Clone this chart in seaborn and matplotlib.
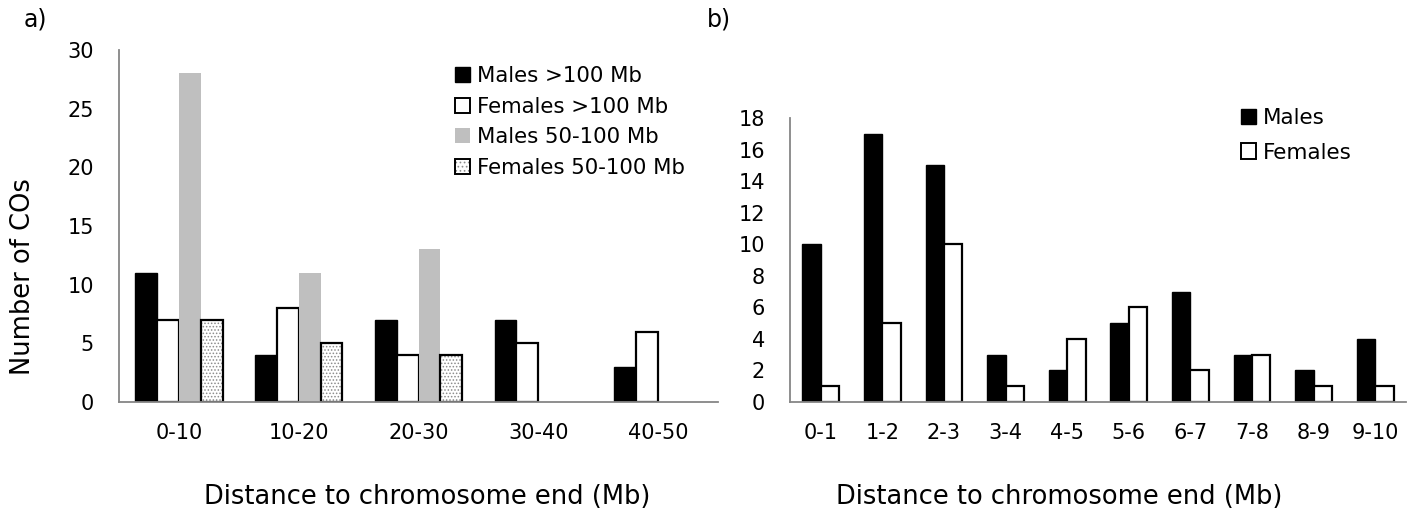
import numpy as np
import pandas as pd
import matplotlib
matplotlib.use('Agg')
import matplotlib.pyplot as plt
import seaborn as sns
from matplotlib.patches import Rectangle, Patch

# ---------------- data ----------------
cats_a = ['0-10', '10-20', '20-30', '30-40', '40-50']
males_gt100 = [11, 4, 7, 7, 3]
females_gt100 = [7, 8, 4, 5, 6]
males_50_100 = [28, 11, 13, 0, 0]
females_50_100 = [7, 5, 4, 0, 0]
series_a = ['Males >100 Mb', 'Females >100 Mb', 'Males 50-100 Mb', 'Females 50-100 Mb']

cats_b = ['0-1', '1-2', '2-3', '3-4', '4-5', '5-6', '6-7', '7-8', '8-9', '9-10']
males_b = [10, 17, 15, 3, 2, 5, 7, 3, 2, 4]
females_b = [1, 5, 10, 1, 4, 6, 2, 3, 1, 1]
series_b = ['Males', 'Females']

# ---------------- style ----------------
sns.set_theme(style='white')
plt.rcParams['font.family'] = ['DejaVu Sans']
plt.rcParams['hatch.linewidth'] = 0.7
plt.rcParams['text.color'] = 'black'
plt.rcParams['axes.labelcolor'] = 'black'
plt.rcParams['xtick.color'] = 'black'
plt.rcParams['ytick.color'] = 'black'

SPINE = '#868686'
GREY = '#bfbfbf'
DOTC = '#8c8c8c'
TICK_FS = 15
LAB_FS = 18.5

fig = plt.figure(figsize=(14.27, 5.23), dpi=100)
axa = fig.add_axes([0.0834, 0.2314, 0.4198, 0.673])
axb = fig.add_axes([0.5536, 0.2314, 0.4317, 0.543])

# ---------------- panel a ----------------
df_a = pd.DataFrame({
    'cat': cats_a * 4,
    'series': np.repeat(series_a, len(cats_a)),
    'value': males_gt100 + females_gt100 + males_50_100 + females_50_100,
})
pal_a = {series_a[0]: 'black', series_a[1]: 'white', series_a[2]: GREY, series_a[3]: 'white'}
sns.barplot(data=df_a, x='cat', y='value', hue='series', order=cats_a, hue_order=series_a,
            palette=pal_a, width=0.73, gap=0, saturation=1, errorbar=None, ax=axa, legend=False)

styles_a = [
    dict(facecolor='black', edgecolor='black', linewidth=1.0),
    dict(facecolor='white', edgecolor='black', linewidth=1.6),
    dict(facecolor=GREY, edgecolor='none', linewidth=0),
    dict(facecolor='white', edgecolor=DOTC, linewidth=0, hatch='.....'),
]
for cont, st in zip(axa.containers, styles_a):
    for p in cont.patches:
        p.set(**st)
        if 'hatch' in st and p.get_height() > 0:
            axa.add_patch(Rectangle((p.get_x(), p.get_y()), p.get_width(), p.get_height(),
                                    fill=False, edgecolor='black', linewidth=1.6,
                                    zorder=p.get_zorder() + 0.1))

axa.set_ylim(0, 30)
axa.set_yticks(range(0, 31, 5))
axa.set_xlim(-0.5, len(cats_a) - 0.5)

h_a = [
    Patch(facecolor='black', edgecolor='black'),
    Patch(facecolor='white', edgecolor='black', linewidth=1.4),
    Patch(facecolor=GREY, edgecolor='none'),
    (Patch(facecolor='white', edgecolor=DOTC, linewidth=0, hatch='....'),
     Patch(fill=False, edgecolor='black', linewidth=1.4)),
]
fig.legend(h_a, series_a, loc='upper left', bbox_to_anchor=(455 / 1427, 1 - 66 / 523),
           bbox_transform=fig.transFigure, frameon=False, fontsize=15.3, handlelength=0.7,
           handleheight=0.7, handletextpad=0.33, labelspacing=0.5, borderpad=0, borderaxespad=0,
           labelcolor='black')

# ---------------- panel b ----------------
df_b = pd.DataFrame({
    'cat': cats_b * 2,
    'series': np.repeat(series_b, len(cats_b)),
    'value': males_b + females_b,
})
pal_b = {'Males': 'black', 'Females': 'white'}
sns.barplot(data=df_b, x='cat', y='value', hue='series', order=cats_b, hue_order=series_b,
            palette=pal_b, width=0.6, gap=0, saturation=1, errorbar=None, ax=axb, legend=False)
styles_b = [
    dict(facecolor='black', edgecolor='black', linewidth=1.0),
    dict(facecolor='white', edgecolor='black', linewidth=1.6),
]
for cont, st in zip(axb.containers, styles_b):
    for p in cont.patches:
        p.set(**st)

axb.set_ylim(0, 18)
axb.set_yticks(range(0, 19, 2))
axb.set_xlim(-0.5, len(cats_b) - 0.5)

h_b = [Patch(facecolor='black', edgecolor='black'),
       Patch(facecolor='white', edgecolor='black', linewidth=1.4)]
fig.legend(h_b, series_b, loc='upper left', bbox_to_anchor=(1241 / 1427, 1 - 108 / 523),
           bbox_transform=fig.transFigure, frameon=False, fontsize=15.5, handlelength=0.7,
           handleheight=0.75, handletextpad=0.33, labelspacing=0.68, borderpad=0, borderaxespad=0,
           labelcolor='black')

# ---------------- common axes styling ----------------
for ax in (axa, axb):
    sns.despine(ax=ax)
    for s in ['left', 'bottom']:
        ax.spines[s].set_color(SPINE)
        ax.spines[s].set_linewidth(1.3)
    ax.tick_params(axis='both', length=0, labelsize=TICK_FS, colors='black')
    ax.tick_params(axis='y', pad=18)
    ax.tick_params(axis='x', pad=15)
    ax.set_xlabel('')
    ax.set_ylabel('')
    ax.grid(False)

fig.text(427 / 1427, 1 - 497 / 523, 'Distance to chromosome end (Mb)', fontsize=LAB_FS,
         ha='center', va='center', color='black')
fig.text(1059 / 1427, 1 - 497 / 523, 'Distance to chromosome end (Mb)', fontsize=LAB_FS,
         ha='center', va='center', color='black')
fig.text(23 / 1427, 1 - 277 / 523, 'Number of COs', fontsize=LAB_FS, rotation=90,
         ha='center', va='center', color='black')

fig.text(35 / 1427, 1 - 20 / 523, 'a)', fontsize=17, ha='center', va='center', color='black')
fig.text(719 / 1427, 1 - 20 / 523, 'b)', fontsize=17, ha='center', va='center', color='black')

fig.savefig('out.png', dpi=100)
